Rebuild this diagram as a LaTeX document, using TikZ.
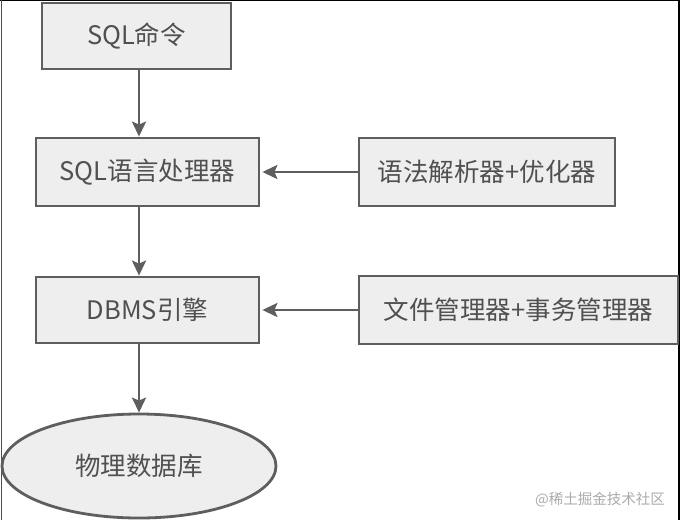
\documentclass[tikz,border=0pt]{standalone}
\usepackage{fontspec}
\newfontfamily\cjk{Noto Sans CJK SC}
\usetikzlibrary{shapes.geometric,arrows.meta}
\definecolor{boxfill}{HTML}{EEEEEE}
\definecolor{boxline}{HTML}{5E5E5E}
\definecolor{txt}{HTML}{505050}
\definecolor{wm}{HTML}{ABABAB}
\tikzset{
  box/.style={draw=boxline, fill=boxfill, line width=2.8pt, inner sep=0pt,
    font=\cjk\fontsize{25.5}{29}\selectfont, text=txt},
  oval/.style={box, ellipse},
  arr/.style={draw=boxline, line width=2.8pt,
    -{Stealth[length=15pt,width=14pt,inset=3pt]}},
}
\begin{document}
\begin{tikzpicture}[x=1pt,y=-1pt]
\useasboundingbox (0,0) rectangle (680,520);
\fill[white] (0,0) rectangle (680,520);
% frame lines
\draw[black, line width=1.2pt] (0,0.6) -- (680,0.6);
\draw[black!70, line width=1pt] (1,0) -- (1,520);
\draw[black, line width=1.4pt] (679,0) -- (679,520);
% nodes
\node[box, minimum width=189pt, minimum height=66pt] (cmd) at (136.5,36) {SQL命令};
\node[box, minimum width=223pt, minimum height=68pt] (proc) at (147.5,172) {SQL语言处理器};
\node[box, minimum width=256pt, minimum height=68pt] (parse) at (487,172) {语法解析器+优化器};
\node[box, minimum width=223pt, minimum height=66pt] (dbms) at (147.5,310) {DBMS引擎};
\node[box, minimum width=319pt, minimum height=68pt] (fm) at (518.5,310) {文件管理器+事务管理器};
\node[oval, minimum width=274pt, minimum height=104pt] (db) at (139,466) {物理数据库};
% connectors
\draw[arr] (db.north |- cmd.south) -- (db.north |- proc.north);
\draw[arr] (db.north |- proc.south) -- (db.north |- dbms.north);
\draw[arr] (db.north |- dbms.south) -- (db.north);
\draw[arr] (parse.west) -- ([xshift=2pt]proc.east);
\draw[arr] (fm.west) -- ([xshift=2pt]dbms.east);
% watermark
\node[font=\cjk\fontsize{14.5}{16}\selectfont, text=wm, inner sep=0pt] (mark) at (600,500) {@稀土掘金技术社区};
\end{tikzpicture}
\end{document}
